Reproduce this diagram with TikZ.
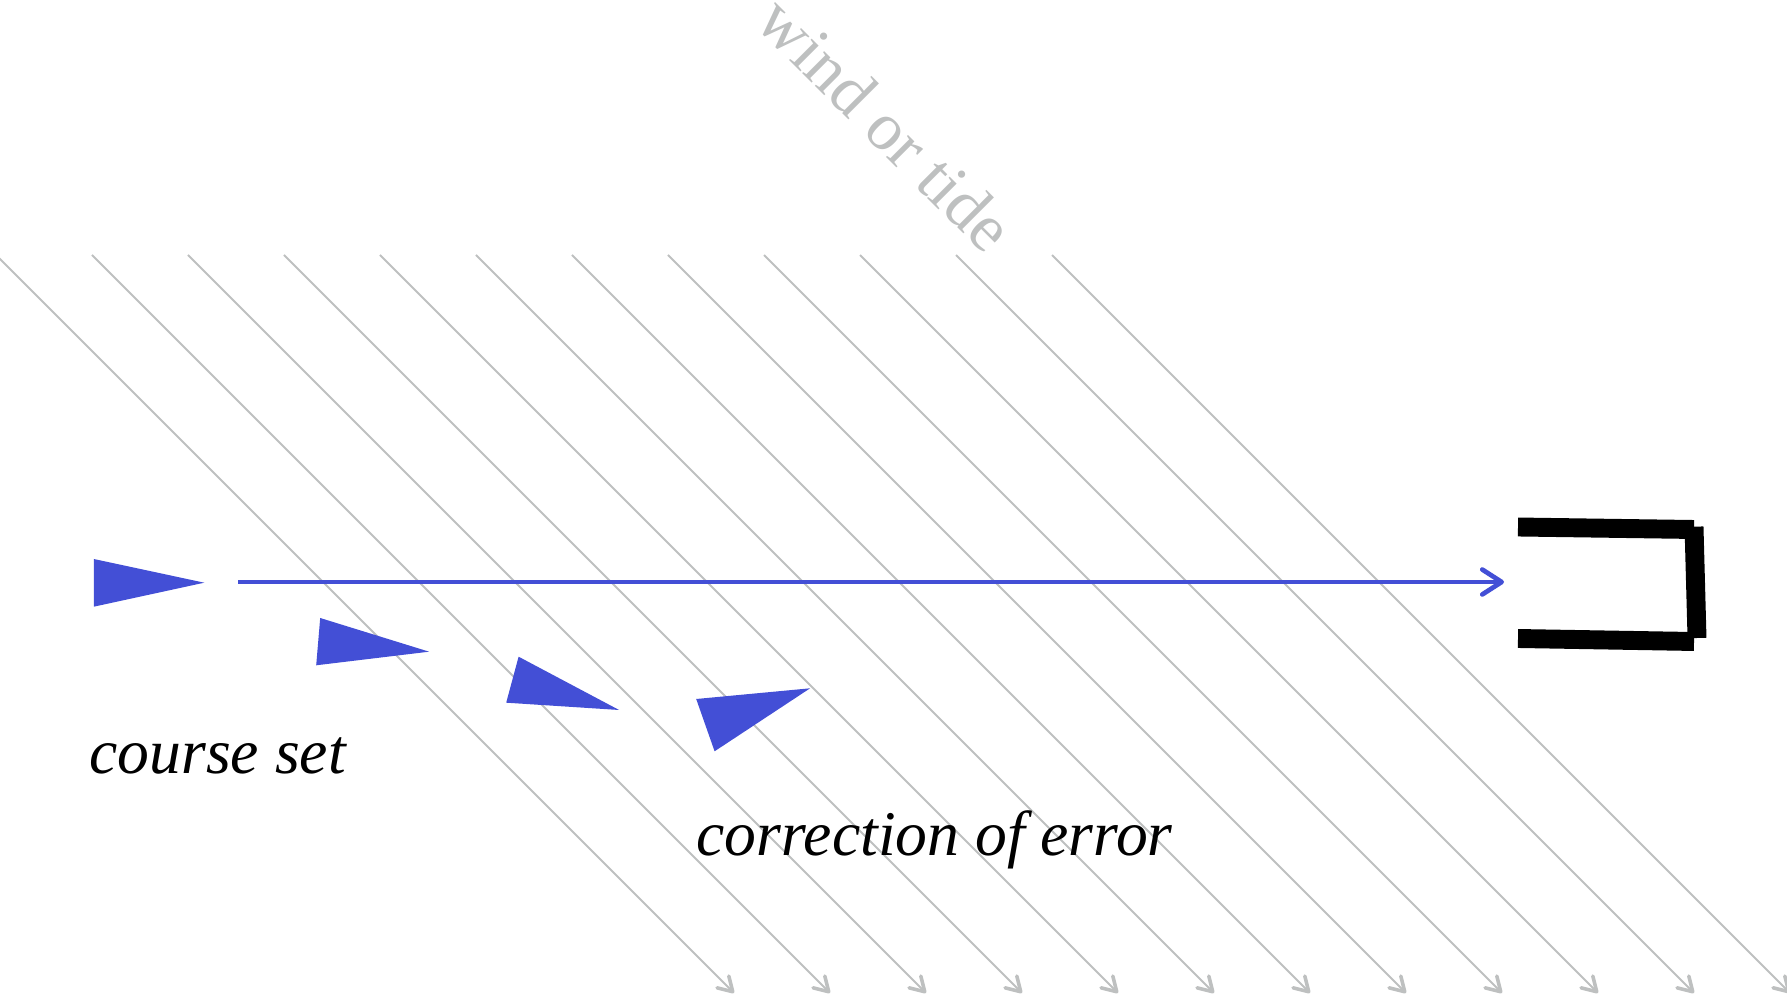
\documentclass[tikz,border=0pt]{standalone}
\usepackage{fontspec}
\setmainfont{Liberation Serif}
\usetikzlibrary{arrows.meta}
\definecolor{boatblue}{RGB}{67,79,214}
\definecolor{windgray}{RGB}{190,192,192}

\begin{document}
\begin{tikzpicture}[x=1in, y=1in,
  windline/.style={windgray, line width=0.7pt, -{Straight Barb[length=5pt, width=6pt, line width=1.3pt, round]}},
  boat/.style={fill=boatblue},
  caption/.style={anchor=base west, inner sep=0pt, font=\fontsize{23}{27}\selectfont\itshape}]
\useasboundingbox (0,0) rectangle (8.935,4.975);
\draw[windline] (-0.02,3.70) -- (3.67,0.01);
\draw[windline] (0.46,3.70) -- (4.15,0.01);
\draw[windline] (0.94,3.70) -- (4.63,0.01);
\draw[windline] (1.42,3.70) -- (5.11,0.01);
\draw[windline] (1.90,3.70) -- (5.59,0.01);
\draw[windline] (2.38,3.70) -- (6.07,0.01);
\draw[windline] (2.86,3.70) -- (6.55,0.01);
\draw[windline] (3.34,3.70) -- (7.03,0.01);
\draw[windline] (3.82,3.70) -- (7.51,0.01);
\draw[windline] (4.30,3.70) -- (7.99,0.01);
\draw[windline] (4.78,3.70) -- (8.47,0.01);
\draw[windline] (5.26,3.70) -- (8.95,0.01);
\node[windgray, rotate=-45, inner sep=0pt, font=\fontsize{24.5}{28}\selectfont] (wind) at (4.43,4.355) {wind or tide};
\coordinate (start) at (1.19,2.065);
\coordinate (goal) at (7.52,2.065);
\draw[boatblue, line width=1.7pt, -{Straight Barb[length=7pt, width=9pt, round]}] (start) -- (goal);
\fill[boat] (0.469,2.18) -- (0.469,1.9415) -- (1.0215,2.0615) -- cycle;
\fill[boat] (1.601,1.885) -- (1.581,1.6485) -- (2.1455,1.7165) -- cycle;
\fill[boat] (2.593,1.6915) -- (2.531,1.4615) -- (3.0955,1.425) -- cycle;
\fill[boat] (3.481,1.48) -- (3.573,1.2185) -- (4.0505,1.5335) -- cycle;
\draw[line width=6.84pt] (7.59,2.34) -- (8.47,2.3275);
\draw[line width=6.84pt] (7.59,1.7825) -- (8.47,1.7675);
\draw[line width=6.84pt] (8.47,2.3415) -- (8.485,1.785);
\node[caption] (courseset) at (0.445,1.105) {course set};
\node[caption] (correction) at (3.48,0.70) {correction of error};
\end{tikzpicture}
\end{document}
